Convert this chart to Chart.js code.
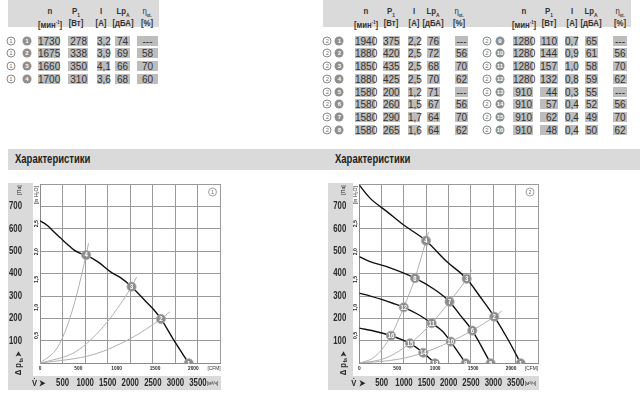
<!DOCTYPE html>
<html><head><meta charset="utf-8">
<script src="https://cdn.jsdelivr.net/npm/chart.js@4.4.1/dist/chart.umd.min.js"></script>
<style>
body{margin:0;width:640px;height:405px;background:#fff;position:relative;overflow:hidden;font-family:"Liberation Sans",Arial,sans-serif;color:#333}
.band{position:absolute;background:#dadada}
.cell{position:absolute;background:#bdbdbd;color:#333;font-size:10px;line-height:11px;height:10px;box-sizing:border-box;white-space:nowrap;overflow:visible}
.hd{position:absolute;font-size:9.5px;line-height:9px;color:#333;font-weight:bold;transform:translateX(-50%) scaleX(0.82);white-space:nowrap;text-align:center}
.oc{position:absolute;width:7px;height:7px;border:1px solid #888;border-radius:50%;font-size:6px;line-height:7px;text-align:center;color:#777;box-sizing:content-box;transform:translate(-50%,-50%)}
.fc{position:absolute;width:9px;height:9px;background:#8f8f8f;border-radius:50%;font-size:6px;line-height:9px;text-align:center;color:#fff;font-weight:bold;transform:translate(-50%,-50%)}
.title{position:absolute;font-size:12.5px;font-weight:bold;color:#222;transform:scaleX(0.76);transform-origin:0 0;white-space:nowrap}
canvas{position:absolute}
</style>
</head><body>
<div class="band" style="left:8px;top:0;width:151px;height:27px"></div>
<div class="band" style="left:323px;top:0;width:308px;height:27px"></div>
<div class="band" style="left:8px;top:149px;width:632px;height:21px"></div>
<div class="title" style="left:15px;top:152px">Характеристики</div>
<div class="title" style="left:335px;top:152px">Характеристики</div>
<div class="band" style="left:8px;top:183px;width:25px;height:207px"></div>
<div class="band" style="left:8px;top:376px;width:213px;height:14px"></div>
<div class="band" style="left:328px;top:183px;width:25px;height:207px"></div>
<div class="band" style="left:328px;top:376px;width:211px;height:14px"></div>
<div id="tables"></div>
<canvas id="c1" width="320" height="233" style="left:0;top:172px"></canvas>
<canvas id="c2" width="320" height="233" style="left:320px;top:172px"></canvas>
<script>
// ---------- table data ----------
const t1Ids = [1,2,3,4];
const t1N = [1730,1675,1660,1700];
const t1P = [278,338,350,310];
const t1I = ['3,2','3,9','4,1','3,6'];
const t1Lp = [74,69,66,68];
const t1Eta = ['---','58','70','60'];

const t2Ids = [1,2,3,4,5,6,7,8,9,10,11,12,13,14,15,16];
const t2N = [1940,1880,1850,1880,1580,1580,1580,1580,1280,1280,1280,1280,910,910,910,910];
const t2P = [375,420,435,425,200,260,290,265,110,144,157,132,44,57,62,48];
const t2I = ['2,2','2,5','2,5','2,5','1,2','1,5','1,7','1,6','0,7','0,9','1,0','0,8','0,3','0,4','0,4','0,4'];
const t2Lp = [76,72,68,70,71,67,64,64,65,61,58,59,55,52,49,50];
const t2Eta = ['---','56','70','62','---','56','70','62','---','56','70','62','---','56','70','62'];

// ---------- chart data ----------
const xTicks = [500,1000,1500,2000,2500,3000,3500];          // m³/h
const cfmTicks = [0,500,1000,1500,2000];                    // CFM
const paTicks = [100,200,300,400,500,600,700];              // Pa
const inTicks = [0.5,1.0,1.5,2.0,2.5];                      // in H2O

// chart 1: fan curve and system curves  [m³/h, Pa]
const fan1 = [[0,636],[150,617],[300,588],[450,560],[600,532],[750,506],[880,492],[1022,483],[1300,450],[1556,409],[1800,380],[2029,342],[2350,275],[2518,240],[2681,198],[2962,104],[3296,0]];
const sys1a = [[0,0],[400,75],[700,225],[1022,483],[1075,535]];
const sys1b = [[0,0],[800,53],[1400,163],[2029,342],[2140,385]];
const sys1c = [[0,0],[1200,40],[2000,110],[2681,198],[2880,230]];
const op1X = [3296,2681,2029,1022];
const op1Y = [0,198,342,483];

// chart 2: fan curves at 1940/1580/1280/910 rpm and system curves
const fan2a = [[0,795],[240,737],[612,678],[985,618],[1493,547],[1956,454],[2404,377],[2701,298],[3021,208],[3335,104],[3612,0]];
const fan2b = [[0,476],[240,454],[612,431],[1247,380],[1694,328],[2020,275],[2254,216],[2529,146],[2940,0]];
const fan2c = [[0,313],[250,300],[500,285],[750,268],[995,250],[1300,220],[1620,179],[1850,145],[2045,97],[2381,0]];
const fan2d = [[0,157],[389,141],[709,123],[950,106],[1135,89],[1432,47],[1694,0]];
const sys2a = [[0,0],[350,30],[709,123],[995,250],[1247,380],[1493,547],[1550,585]];
const sys2b = [[0,0],[600,24],[1135,89],[1620,179],[2020,275],[2404,377],[2515,415]];
const sys2c = [[0,0],[900,19],[1432,47],[2045,97],[2529,146],[3021,208],[3190,233]];
const op2X = [3612,3021,2404,1493,2940,2529,2020,1247,2381,2045,1620,995,1694,1432,1135,709];
const op2Y = [0,208,377,547,0,146,275,380,0,97,179,250,0,47,89,123];

// ---------- tables ----------
const tables = document.getElementById('tables');
function add(cls, style, html){const d=document.createElement('div');d.className=cls;d.style.cssText=style;d.innerHTML=html;tables.appendChild(d);return d;}
function headers(xs){
  const top=['n','P<sub style="font-size:6px">1</sub>','I','Lp<sub style="font-size:6px">A</sub>','<span style="font-weight:normal">η</span><sub style="font-size:5px">st.</sub>'];
  const bot=['[мин<sup style="font-size:5px">-1</sup>]','[Вт]','[A]','[дБА]','[%]'];
  xs.forEach((x,i)=>{add('hd',`left:${x}px;top:6px`,top[i]);add('hd',`left:${x}px;top:18px`,bot[i]);});
}
function row(y, tableNo, id, ocX, fcX, cols, vals){
  add('oc',`left:${ocX}px;top:${y}px`,tableNo);
  add('fc',`left:${fcX}px;top:${y}px`,id);
  cols.forEach((c,i)=>{
    const align = i<2 ? 'right;padding-right:1px' : 'center';
    add('cell',`left:${c[0]}px;width:${c[1]-c[0]}px;top:${y-5}px;text-align:${align}`,vals[i]);
  });
}
headers([50,76,101,123,147]);
const cols1=[[38,60],[68,88],[97,110],[115,130],[137,158]];
t1Ids.forEach((id,i)=>row(40.7+i*12.75,1,id,11,27,cols1,[t1N[i],t1P[i],t1I[i],t1Lp[i],t1Eta[i]]));
headers([366,391,414,433,459]);
headers([524,549,572,591,620]);
const cols2a=[[355,375],[383,400],[408,420],[427,440],[455,468]];
const cols2b=[[513,533],[540,558],[565,578],[585,598],[613,627]];
t2Ids.forEach((id,i)=>{
  const blk = i<8 ? 0 : 1; const r = i%8;
  const y = 40.7 + r*12.75;
  row(y,2,id, blk?487:327.3, blk?500:339.3, blk?cols2b:cols2a, [t2N[i],t2P[i],t2I[i],t2Lp[i],t2Eta[i]]);
});

// ---------- charts ----------
const FONT='"Liberation Sans",Arial,sans-serif';
const pairs = a => a.map(p=>({x:p[0],y:p[1]}));
const zipXY = (xs,ys) => xs.map((x,i)=>({x:x,y:ys[i]}));

function fanDs(a){return {data:pairs(a),showLine:true,borderColor:'#111',borderWidth:1.4,pointRadius:0,cubicInterpolationMode:'monotone',order:1};}
function sysDs(a){return {data:pairs(a),showLine:true,borderColor:'#b0b0b0',borderWidth:1,pointRadius:0,cubicInterpolationMode:'monotone',order:2};}
function opDs(xs,ys){return {data:zipXY(xs,ys),showLine:false,pointRadius:4.6,pointBackgroundColor:'#8c8c8c',pointBorderColor:'#a8a8a8',pointBorderWidth:0.8,order:0,isOp:true};}

// condensed text helper
function txt(ctx,t,x,y,font,align,sx,rot){
  ctx.save();ctx.translate(x,y);if(rot)ctx.rotate(rot);ctx.scale(sx||0.8,1);
  ctx.font=font;ctx.textAlign=align||'center';ctx.textBaseline='middle';ctx.fillText(t,0,0);ctx.restore();
}

function labelPlugin(no, paGap){
  return {
    id:'lbl'+no,
    afterDatasetsDraw(chart){
      const ctx=chart.ctx;
      chart.data.datasets.forEach((ds,di)=>{
        if(!ds.isOp) return;
        const meta=chart.getDatasetMeta(di);
        ctx.save();ctx.fillStyle='#fff';
        meta.data.forEach((el,i)=>txt(ctx,String(i+1),el.x,el.y+0.5,'bold 7px '+FONT,'center',0.85));
        ctx.restore();
      });
    },
    afterDraw(chart){
      const ctx=chart.ctx, ca=chart.chartArea, sx=chart.scales.x, sy=chart.scales.y, sc=chart.scales.xc, si=chart.scales.yin;
      const R=-Math.PI/2;
      ctx.save();
      ctx.fillStyle='#2a2a2a';
      // Pa ticks
      paTicks.forEach(v=>txt(ctx,String(v),ca.left-paGap,sy.getPixelForValue(v),'bold 10px '+FONT,'right',0.78));
      // in H2O ticks (rotated)
      inTicks.forEach(v=>txt(ctx,v.toFixed(1).replace('.',','),ca.left-4,si.getPixelForValue(v),'bold 6px '+FONT,'center',0.85,R));
      // unit labels
      txt(ctx,'[Па]',ca.left-paGap-3,ca.top+6,'6px '+FONT,'center',0.85,R);
      txt(ctx,'[in H₂O]',ca.left-4,ca.top+11,'6px '+FONT,'center',0.85,R);
      // Δ p_fa label
      ctx.save();ctx.translate(ca.left-paGap-3,ca.bottom+12);ctx.rotate(R);ctx.scale(0.85,1);ctx.textBaseline='middle';ctx.textAlign='left';
      ctx.font='bold 9px '+FONT;ctx.fillText('Δ p',0,0);let w=ctx.measureText('Δ p').width;
      ctx.font='bold 6px '+FONT;ctx.fillText('fa',w+0.5,2.5);w+=ctx.measureText('fa').width+2;
      ctx.font='bold 8px '+FONT;ctx.fillText('➤',w,0);
      ctx.restore();
      // m³/h ticks
      const yb=ca.bottom+20;
      xTicks.forEach(v=>txt(ctx,String(v),sx.getPixelForValue(v),yb,'bold 10px '+FONT,'center',0.78));
      txt(ctx,'V̇ ➤',ca.left-8,yb,'bold 9px '+FONT,'left',0.85);
      txt(ctx,'[м³/ч]',sx.getPixelForValue(3500)+9,yb,'6px '+FONT,'left',0.8);
      // CFM ticks
      cfmTicks.forEach(v=>txt(ctx,String(v),sc.getPixelForValue(v),ca.bottom+5,'bold 6px '+FONT,'center',0.8));
      txt(ctx,'[CFM]',ca.right,ca.bottom+5,'6px '+FONT,'right',0.8);
      // circled chart number
      ctx.strokeStyle='#888';ctx.lineWidth=0.8;ctx.beginPath();ctx.arc(ca.right-8,ca.top+8,4,0,Math.PI*2);ctx.stroke();
      ctx.fillStyle='#777';txt(ctx,String(no),ca.right-8,ca.top+8.5,'6px '+FONT,'center',0.9);
      ctx.restore();
    }
  };
}

function makeChart(id,no,datasets,pad,paGap){
  const grid={color:'#9a9a9a',lineWidth:1,drawTicks:false};
  const border={display:true,color:'#8a8a8a',width:1};
  new Chart(document.getElementById(id),{
    type:'scatter',
    data:{datasets:datasets},
    options:{
      responsive:false,animation:false,
      layout:{padding:pad},
      plugins:{legend:{display:false},tooltip:{enabled:false}},
      scales:{
        x:{type:'linear',min:0,max:4000,ticks:{display:false,stepSize:500},grid:grid,border:border,afterFit:s=>{s.height=0;}},
        y:{type:'linear',min:0,max:800,ticks:{display:false,stepSize:100},grid:grid,border:border,afterFit:s=>{s.width=0;}},
        xc:{type:'linear',axis:'x',position:'bottom',display:false,min:0,max:4000/1.69901},
        yin:{type:'linear',axis:'y',position:'left',display:false,min:0,max:800/249.089}
      }
    },
    plugins:[labelPlugin(no,paGap)]
  });
}

makeChart('c1',1,[opDs(op1X,op1Y),fanDs(fan1),sysDs(sys1a),sysDs(sys1b),sysDs(sys1c)],{left:40,top:12,right:99.5,bottom:41.7},18);
makeChart('c2',2,[opDs(op2X,op2Y),fanDs(fan2a),fanDs(fan2b),fanDs(fan2c),fanDs(fan2d),sysDs(sys2a),sysDs(sys2b),sysDs(sys2c)],{left:39.3,top:12,right:102,bottom:41.7},13);
</script>
</body></html>
